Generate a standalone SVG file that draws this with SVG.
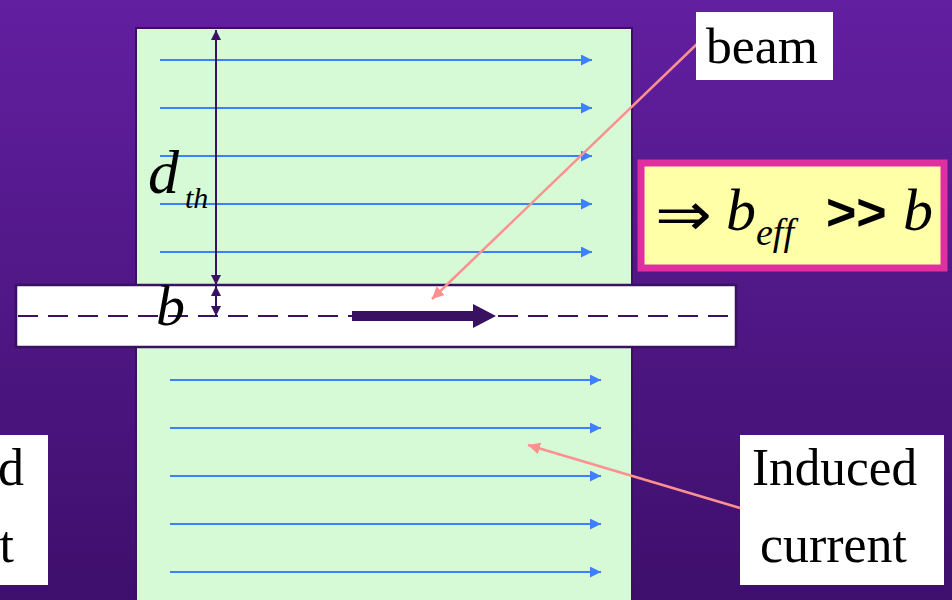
<svg xmlns="http://www.w3.org/2000/svg" width="952" height="600" viewBox="0 0 952 600">
<defs>
<linearGradient id="bg" x1="0" y1="0" x2="0" y2="1">
<stop offset="0" stop-color="#621fa0"/>
<stop offset="1" stop-color="#3e0f6c"/>
</linearGradient>
<marker id="blue" viewBox="0 0 10 10" refX="10" refY="5" markerWidth="11" markerHeight="11" markerUnits="userSpaceOnUse" orient="auto"><path d="M0,0 L10,5 L0,10 z" fill="#3f80ff"/></marker>
<marker id="dk" viewBox="0 0 10 10" refX="10" refY="5" markerWidth="10" markerHeight="10" markerUnits="userSpaceOnUse" orient="auto-start-reverse"><path d="M0,0 L10,5 L0,10 z" fill="#3a1060"/></marker>
<marker id="pk" viewBox="0 0 10 10" refX="10" refY="5" markerWidth="12" markerHeight="12" markerUnits="userSpaceOnUse" orient="auto"><path d="M0,0 L10,5 L0,10 z" fill="#ff9090"/></marker>
<style>
.blue{stroke:#3f80ff;stroke-width:2;marker-end:url(#blue)}
.pink{stroke:#ff9090;stroke-width:2.5;fill:none;marker-end:url(#pk)}
.lbl{fill:#fff}
.s{font-family:'Liberation Serif','Times New Roman',serif;fill:#000}
.i{font-style:italic}
</style>
</defs>
<rect width="952" height="600" fill="url(#bg)"/>
<g id="plate">
<rect x="136" y="28" width="496" height="590" fill="#d5fad5" stroke="#3a1060" stroke-width="2"/>
</g>
<g id="currents">
<line class="blue" x1="160" y1="60" x2="592" y2="60"/>
<line class="blue" x1="160" y1="108" x2="592" y2="108"/>
<line class="blue" x1="160" y1="156" x2="592" y2="156"/>
<line class="blue" x1="160" y1="204" x2="592" y2="204"/>
<line class="blue" x1="160" y1="252" x2="592" y2="252"/>
<line class="blue" x1="170" y1="380" x2="601" y2="380"/>
<line class="blue" x1="170" y1="428" x2="601" y2="428"/>
<line class="blue" x1="170" y1="476" x2="601" y2="476"/>
<line class="blue" x1="170" y1="524" x2="601" y2="524"/>
<line class="blue" x1="170" y1="572" x2="601" y2="572"/>
</g>
<g id="beampipe">
<rect x="16" y="285" width="720" height="62" fill="#fff" stroke="#3a1060" stroke-width="2.5"/>
<line x1="18" y1="316" x2="734" y2="316" stroke="#3a1060" stroke-width="2" stroke-dasharray="20,10"/>
<path d="M352,311 L473,311 L473,304 L496,316 L473,328 L473,321 L352,321 z" fill="#3a1060"/>
</g>
<g id="dims">
<line x1="216" y1="30" x2="216" y2="285" stroke="#3a1060" stroke-width="2" marker-start="url(#dk)" marker-end="url(#dk)"/>
<line x1="216" y1="286" x2="216" y2="316" stroke="#3a1060" stroke-width="2" marker-start="url(#dk)" marker-end="url(#dk)"/>
<text class="s i" x="148" y="193" font-size="62">d</text>
<text class="s i" x="185" y="208" font-size="30">th</text>
<text class="s i" x="156" y="325" font-size="58">b</text>
</g>
<g id="connectors">
<line class="pink" x1="697" y1="44" x2="432" y2="299"/>
<line class="pink" x1="740" y1="508" x2="528" y2="445"/>
</g>
<g id="beam-label">
<rect class="lbl" x="696" y="12" width="137" height="68"/>
<text class="s" x="706" y="63" font-size="51" textLength="112" lengthAdjust="spacingAndGlyphs">beam</text>
</g>
<g id="beff">
<rect x="641" y="163" width="303" height="105" fill="#ffffa8" stroke="#e030a0" stroke-width="7"/>
<text x="655" y="235" font-size="60" font-family="DejaVu Sans, sans-serif" textLength="57" lengthAdjust="spacingAndGlyphs">⇒</text>
<text class="s i" x="726" y="230" font-size="60">b</text>
<text class="s i" x="756" y="245" font-size="38">eff</text>
<text x="826" y="230" font-size="52" font-weight="bold" font-family="'Liberation Sans', Arial, sans-serif">&gt;&gt;</text>
<text class="s i" x="903" y="230" font-size="60">b</text>
</g>
<g id="induced-label">
<rect class="lbl" x="740" y="435" width="204" height="150"/>
<text class="s" x="752" y="485" font-size="52" textLength="165" lengthAdjust="spacingAndGlyphs">Induced</text>
<text class="s" x="760" y="562" font-size="52" textLength="147" lengthAdjust="spacingAndGlyphs">current</text>
</g>
<g id="left-label">
<rect class="lbl" x="-10" y="435" width="58" height="150"/>
<text class="s" x="24" y="485" font-size="52" text-anchor="end">d</text>
<text class="s" x="14" y="562" font-size="52" text-anchor="end">t</text>
</g>
</svg>
